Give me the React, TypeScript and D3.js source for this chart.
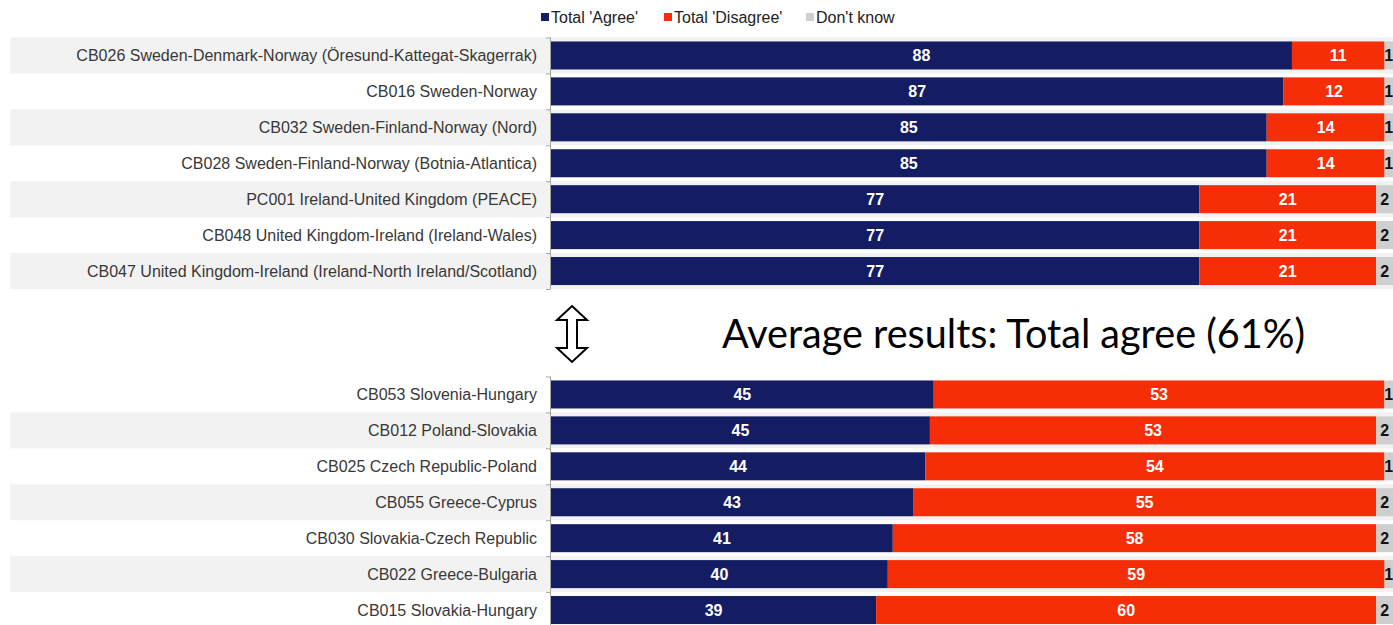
import React from "react";
import * as d3 from "d3";

const topCategories = [
  "CB026 Sweden-Denmark-Norway (Öresund-Kattegat-Skagerrak)",
  "CB016 Sweden-Norway",
  "CB032 Sweden-Finland-Norway (Nord)",
  "CB028 Sweden-Finland-Norway (Botnia-Atlantica)",
  "PC001 Ireland-United Kingdom (PEACE)",
  "CB048 United Kingdom-Ireland (Ireland-Wales)",
  "CB047 United Kingdom-Ireland (Ireland-North Ireland/Scotland)",
];
const topAgree = [88, 87, 85, 85, 77, 77, 77];
const topDisagree = [11, 12, 14, 14, 21, 21, 21];
const topDontKnow = [1, 1, 1, 1, 2, 2, 2];

const bottomCategories = [
  "CB053 Slovenia-Hungary",
  "CB012 Poland-Slovakia",
  "CB025 Czech Republic-Poland",
  "CB055 Greece-Cyprus",
  "CB030 Slovakia-Czech Republic",
  "CB022 Greece-Bulgaria",
  "CB015 Slovakia-Hungary",
];
const bottomAgree = [45, 45, 44, 43, 41, 40, 39];
const bottomDisagree = [53, 53, 54, 55, 58, 59, 60];
const bottomDontKnow = [1, 2, 1, 2, 2, 1, 2];

const seriesKeys = ["agree", "disagree", "dk"];
const legendLabels = ["Total 'Agree'", "Total 'Disagree'", "Don't know"];
const averageText = "Average results: Total agree (61%)";

const COLORS = ["#141c63", "#f52e08", "#cfcfcf"];
const LABEL_COLORS = ["#ffffff", "#ffffff", "#111111"];
const STRIPE = "#f2f2f2";
const W = 1393;
const H = 625;
const FONT = "'Liberation Sans', Arial, sans-serif";

const x = d3.scaleLinear().domain([0, 1]).range([551, 1393]);

function Panel({ cats, agree, disagree, dk, y0, y1, stripeOdd }: any) {
  const y = d3.scaleBand<string>().domain(cats).range([y0, y1]).paddingInner(0.22).paddingOuter(0.11);
  const step = y.step();
  const table = cats.map((c: string, i: number) => ({ c, agree: agree[i], disagree: disagree[i], dk: dk[i] }));
  const stacked = d3.stack<any>().keys(seriesKeys).offset(d3.stackOffsetExpand)(table);
  const bandTop = (i: number) => y0 + i * step;
  return (
    <g>
      {cats.map((c: string, i: number) =>
        i % 2 === (stripeOdd ? 1 : 0) ? (
          <rect key={"s" + i} x={10} y={bandTop(i)} width={W - 10} height={step} fill={STRIPE} />
        ) : null
      )}
      {stacked.map((series, k) => (
        <g key={series.key}>
          {series.map((d, i) => (
            <rect
              key={i}
              x={x(d[0])}
              y={y(d.data.c)}
              width={x(d[1]) - x(d[0])}
              height={y.bandwidth()}
              fill={COLORS[k]}
            />
          ))}
        </g>
      ))}
      {stacked.map((series, k) => (
        <g key={"t" + series.key}>
          {series.map((d, i) => (
            <text
              key={i}
              x={(x(d[0]) + x(d[1])) / 2}
              y={(y(d.data.c) as number) + y.bandwidth() / 2}
              dy="0.36em"
              textAnchor="middle"
              fill={LABEL_COLORS[k]}
              fontFamily={FONT}
              fontWeight="bold"
              fontSize={16}
            >
              {d.data[series.key]}
            </text>
          ))}
        </g>
      ))}
      {cats.map((c: string) => (
        <text
          key={"l" + c}
          x={537}
          y={(y(c) as number) + y.bandwidth() / 2}
          dy="0.36em"
          textAnchor="end"
          fill="#383838"
          fontFamily={FONT}
          fontSize={16}
        >
          {c}
        </text>
      ))}
      <line x1={550.5} x2={550.5} y1={y0} y2={y1} stroke="#a6a6a6" strokeWidth={1} />
      {d3.range(cats.length + 1).map((i) => (
        <line key={"tk" + i} x1={546} x2={550.5} y1={bandTop(i) + 0.5} y2={bandTop(i) + 0.5} stroke="#a6a6a6" strokeWidth={1} />
      ))}
    </g>
  );
}

export default function App() {
  const legendX = [541, 664, 806];
  return (
    <svg width={W} height={H} style={{ position: "absolute", left: 0, top: 0, background: "#ffffff" }}>
      <rect x={0} y={0} width={W} height={H} fill="#ffffff" />
      {legendLabels.map((l, i) => (
        <g key={l}>
          <rect x={legendX[i]} y={13} width={8} height={8} fill={COLORS[i]} />
          <text x={legendX[i] + 10} y={17} dy="0.36em" fill="#222" fontFamily={FONT} fontSize={16}>
            {l}
          </text>
        </g>
      ))}
      <Panel cats={topCategories} agree={topAgree} disagree={topDisagree} dk={topDontKnow} y0={37.5} y1={289} stripeOdd={false} />
      <Panel cats={bottomCategories} agree={bottomAgree} disagree={bottomDisagree} dk={bottomDontKnow} y0={376.5} y1={628} stripeOdd={true} />
      <path
        d="M572,306 L587,320 L577,320 L577,348 L587,348 L572,362 L557,348 L567,348 L567,320 L557,320 Z"
        fill="#ffffff"
        stroke="#000000"
        strokeWidth={2}
        strokeLinejoin="miter"
      />
      <text
        x={722}
        y={348}
        fill="#000000"
        fontFamily="Lato, 'Open Sans', sans-serif"
        fontSize={40}
        textLength={583}
        lengthAdjust="spacingAndGlyphs"
      >
        {averageText}
      </text>
    </svg>
  );
}
